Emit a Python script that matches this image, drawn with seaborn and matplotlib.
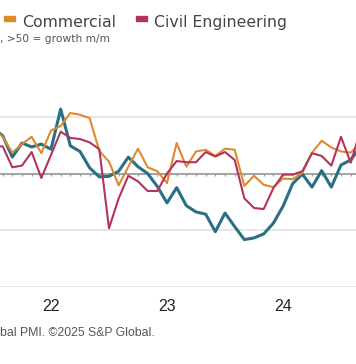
import numpy as np
import pandas as pd
import seaborn as sns
import matplotlib.pyplot as plt
from matplotlib.patches import Rectangle

# monthly construction PMI sub-indices, Jul 2021 - Sep 2024
months = pd.date_range("2021-07-01", "2024-09-01", freq="MS")
housing = [58.0, 56.7, 52.9, 55.4, 54.7, 55.2, 54.3, 61.4, 54.9, 53.9, 51.0, 49.4, 49.5,
           50.4, 52.9, 51.2, 50.0, 47.7, 44.8, 47.5, 44.3, 43.2, 42.8, 39.7, 43.0, 40.6,
           38.3, 38.6, 39.3, 41.2, 44.2, 48.2, 49.9, 47.6, 50.5, 47.6, 51.5, 52.4, 54.7]
commercial = [58.0, 56.5, 53.7, 55.2, 56.5, 53.6, 57.6, 58.4, 60.7, 60.4, 59.8, 54.0, 52.1,
              47.9, 51.2, 54.4, 51.1, 50.4, 48.3, 55.4, 51.2, 53.9, 54.2, 53.1, 54.4, 54.2,
              47.8, 49.6, 48.0, 47.6, 49.1, 49.0, 50.1, 53.7, 55.8, 54.6, 53.9, 53.7, 55.3]
civil = [54.8, 54.8, 51.1, 51.4, 53.8, 49.2, 53.3, 57.4, 56.3, 56.1, 55.5, 54.3, 40.3,
         45.6, 49.6, 48.6, 46.9, 46.9, 50.0, 52.2, 52.0, 52.0, 53.8, 53.0, 53.8, 52.4,
         45.6, 43.9, 43.7, 47.4, 49.8, 49.8, 50.4, 53.6, 53.1, 51.4, 56.5, 51.9, 57.5]
series_names = ["Housing", "Commercial", "Civil Engineering"]
colors = {"Housing": "#2b6f87", "Commercial": "#e0892e", "Civil Engineering": "#b3335c"}
widths = {"Housing": 2.2, "Commercial": 1.5, "Civil Engineering": 1.5}
year_labels = ["22", "23", "24"]

# month index, 0 = Jan 2022
pos = (months.year - 2022) * 12 + months.month - 1
df = pd.DataFrame({"pos": np.tile(pos, 3),
                   "value": housing + commercial + civil,
                   "series": np.repeat(series_names, len(months))})

sns.set_style("white")
plt.rcParams["font.family"] = ["DejaVu Sans"]

W, H = 356, 364
fig = plt.figure(figsize=(W / 100, H / 100), dpi=100)
ax = fig.add_axes([0, (H - 286.5) / H, 1, (286.5 - 88.75) / H])

for y in [30, 40, 60]:
    ax.axhline(y, color="#e4e4e4", lw=1.3, zorder=0)
ax.axhline(50, color="#9b9b9b", lw=1.3, zorder=1)
ax.vlines(pos, 49.5, 50, color="#9b9b9b", lw=0.9, zorder=1)

sns.lineplot(data=df, x="pos", y="value", hue="series", palette=colors,
             size="series", sizes=widths, legend=False, ax=ax, zorder=3)

ax.set_xlim(-51 / 9.667, (W - 51) / 9.667)
ax.set_ylim(30, 65)
ax.set_xticks([0, 12, 24])
ax.set_xticklabels(year_labels, fontsize=11.5, color="#222222",
                   family=["Liberation Sans", "DejaVu Sans"])
ax.tick_params(axis="x", length=0, pad=9.0)
ax.set_yticks([])
ax.set_xlabel("")
ax.set_ylabel("")
for s in ax.spines.values():
    s.set_visible(False)

# legend drawn by hand (the Housing entry lies outside this crop)
for name, x0, tx in [("Commercial", 4, 22), ("Civil Engineering", 135.7, 154)]:
    fig.patches.append(Rectangle((x0 / W, 1 - 20.5 / H), 11 / W, 5 / H,
                                 transform=fig.transFigure, color=colors[name]))
    fig.text(tx / W, 1 - 27.3 / H, name, fontsize=11.3, color="#444444", va="baseline")

fig.text(0.5 / W, 1 - 42.3 / H, ", >50 = growth m/m", fontsize=7.7,
         color="#555555", ha="left", va="baseline")
fig.text(155 / W, 1 - 335.7 / H, "bal PMI. \u00a92025 S&P Global.",
         fontsize=8.8, color="#555555", ha="right", va="baseline",
         family=["Liberation Sans", "DejaVu Sans"])

fig.savefig("out.png", dpi=100)
